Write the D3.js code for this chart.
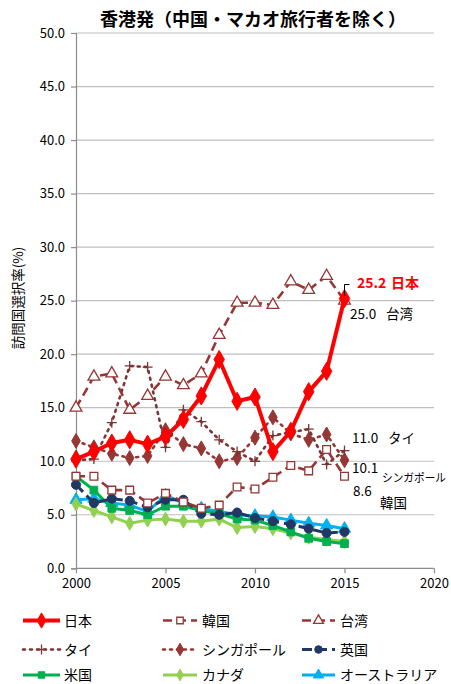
<!DOCTYPE html>
<html><head><meta charset="utf-8">
<script src="https://cdn.jsdelivr.net/npm/d3@7"></script>
<style>body{margin:0;background:#fff}svg{display:block}text{font-family:"Noto Sans CJK JP","Noto Sans",sans-serif}</style>
</head><body>
<script>
const years = [2000,2001,2002,2003,2004,2005,2006,2007,2008,2009,2010,2011,2012,2013,2014,2015];
const japan     = [10.2,10.9,11.7,12.0,11.6,12.3,13.9,16.1,19.5,15.6,16.0,10.9,12.8,16.5,18.4,25.2];
const korea     = [8.6,8.6,7.3,7.3,6.1,7.0,6.2,5.6,5.9,7.6,7.4,8.5,9.6,9.1,11.1,8.6];
const taiwan    = [15.0,17.9,18.2,14.8,16.1,17.9,17.1,18.2,21.8,24.8,24.8,24.6,26.8,26.0,27.3,25.0];
const thai      = [10.1,10.2,13.6,18.9,18.8,11.3,14.8,13.7,12.0,10.9,10.0,12.4,12.7,13.0,9.7,11.0];
const singapore = [11.9,11.3,10.7,10.3,10.5,12.9,11.6,11.2,10.0,10.3,12.2,14.1,12.6,12.0,12.5,10.1];
const uk        = [7.8,6.1,6.5,6.3,5.7,6.4,6.4,5.1,5.0,5.2,4.7,4.4,4.1,3.7,3.3,3.4];
const usa       = [8.6,7.3,5.6,5.4,5.0,5.8,5.8,5.4,5.1,4.6,4.5,4.0,3.4,2.8,2.5,2.3];
const canada    = [6.0,5.4,4.8,4.2,4.5,4.6,4.4,4.4,4.6,3.8,3.9,3.7,3.3,2.9,2.7,2.5];
const australia = [6.4,6.5,6.1,5.9,5.3,6.8,6.1,5.6,5.3,5.0,4.9,4.8,4.5,4.2,4.0,3.7];
const seriesNames = ["日本","韓国","台湾","タイ","シンガポール","英国","米国","カナダ","オーストラリア"];
const yTicks = [0,5,10,15,20,25,30,35,40,45,50];
const xTicks = [2000,2005,2010,2015,2020];
const title = "香港発（中国・マカオ旅行者を除く）";
const yLabel = "訪問国選択率(%)";

const W=451,H=684;
const svg=d3.select("body").append("svg").attr("width",W).attr("height",H);
const x=d3.scaleLinear().domain([2000,2020]).range([76,434]);
const y=d3.scaleLinear().domain([0,50]).range([568.3,33]);

svg.append("g").selectAll("line").data(yTicks.filter(d=>d>0)).join("line")
 .attr("x1",76).attr("x2",434).attr("y1",d=>y(d)).attr("y2",d=>y(d))
 .attr("stroke","#BFBFBF").attr("stroke-width",1.2);

const ya=svg.append("g").attr("transform","translate(76,0)")
 .call(d3.axisLeft(y).tickValues(yTicks).tickFormat(d3.format(".1f")).tickSize(5).tickPadding(6));
const xa=svg.append("g").attr("transform","translate(0,568.3)")
 .call(d3.axisBottom(x).tickValues(xTicks).tickFormat(d3.format("d")).tickSize(5).tickPadding(5));
[ya,xa].forEach(a=>{a.selectAll("path,line").attr("stroke","#8C8C8C").attr("stroke-width",1.2);
 a.selectAll("text").attr("font-size",13).attr("fill","#000").attr("font-family","Lato,'Noto Sans',sans-serif");});
xa.select(".domain").attr("d","M76,0H434");

svg.append("text").attr("x",253).attr("y",26).attr("text-anchor","middle").attr("font-size",18).attr("font-weight","bold").text(title);
svg.append("text").attr("transform","translate(23,298) rotate(-90)").attr("text-anchor","middle").attr("font-size",13.5).text(yLabel);

const brown="#953735", dbrown="#7B3533";
const S=[
 {d:japan,c:"#FF0000",w:4,dash:null,m:"diamond",ms:95,fill:"#FF0000"},
 {d:korea,c:brown,w:2.6,dash:"9,5",m:"square",ms:60,fill:"#fff"},
 {d:taiwan,c:brown,w:2.6,dash:"9,5",m:"triangle",ms:60,fill:"#fff"},
 {d:thai,c:dbrown,w:2.6,dash:"2,5",m:"plus",ms:0,fill:"none"},
 {d:singapore,c:brown,w:2.6,dash:"2,5",m:"diamond",ms:65,fill:brown},
 {d:uk,c:"#1F3864",w:3,dash:"10,5",m:"circle",ms:65,fill:"#1F3864"},
 {d:usa,c:"#00B050",w:3,dash:null,m:"square",ms:60,fill:"#00B050"},
 {d:canada,c:"#92D050",w:3,dash:null,m:"diamond",ms:55,fill:"#92D050"},
 {d:australia,c:"#00B0F0",w:3,dash:null,m:"triangle",ms:65,fill:"#00B0F0"}
];
S.forEach((s,i)=>s.name=seriesNames[i]);
const symMap={diamond:d3.symbolDiamond,square:d3.symbolSquare,triangle:d3.symbolTriangle,circle:d3.symbolCircle};
function marker(g,s,cx,cy){
 if(s.m==="plus"){
  g.append("path").attr("d",`M${cx-5},${cy}H${cx+5}M${cx},${cy-5}V${cy+5}`).attr("stroke",s.c).attr("stroke-width",1.3).attr("fill","none");
 } else {
  g.append("path").attr("d",d3.symbol().type(symMap[s.m]).size(s.ms)()).attr("transform",`translate(${cx},${cy})`)
   .attr("fill",s.fill).attr("stroke",s.c).attr("stroke-width",s.fill==="#fff"?1.3:1);
 }
}
const line=d3.line().x((d,i)=>x(years[i])).y(d=>y(d));
const order=[8,7,6,5,4,3,1,2,0];
order.forEach(i=>{
 const s=S[i]; const g=svg.append("g");
 g.append("path").attr("d",line(s.d)).attr("fill","none").attr("stroke",s.c).attr("stroke-width",s.w)
  .attr("stroke-dasharray",s.dash).attr("stroke-linecap",s.dash&&s.dash.startsWith("2")?"round":"butt").attr("stroke-linejoin","round");
 s.d.forEach((v,j)=>marker(g,s,x(years[j]),y(v)));
});

const f1=d3.format(".1f");
const jx=x(2015), jy=y(japan[15]);
svg.append("path").attr("d",`M${jx},${jy-3}V${jy-14}H${jx+5}`).attr("stroke","#000").attr("fill","none").attr("stroke-width",1);
const lab=(t,xx,yy,fs,col,bold)=>svg.append("text").attr("x",xx).attr("y",yy).attr("font-size",fs||13.5)
 .attr("fill",col||"#000").attr("font-weight",bold?"bold":"normal").text(t);
lab(f1(japan[15]),357,288,14,"#FF0000",true);
lab("日本",391,288,14,"#FF0000",true);
lab(f1(taiwan[15]),350,319);
lab("台湾",386,319);
lab(f1(thai[15]),352,443);
lab("タイ",388,443);
lab(f1(singapore[15]),352,473);
lab("シンガポール",382,482,11.5).attr("textLength",64).attr("lengthAdjust","spacingAndGlyphs");
lab(f1(korea[15]),353,496);
lab("韓国",380,508);

const cols=[[23,60,64],[163,197,202],[302,335,340]];
const rows=[620.5,649.5,675];
S.forEach((s,i)=>{
 const c=cols[i%3], ry=rows[Math.floor(i/3)];
 const g=svg.append("g");
 g.append("path").attr("d",`M${c[0]},${ry}H${c[1]}`).attr("stroke",s.c).attr("stroke-width",s.w)
  .attr("stroke-dasharray",s.dash).attr("stroke-linecap",s.dash&&s.dash.startsWith("2")?"round":"butt");
 marker(g,{...s,ms:s.ms*0.7},(c[0]+c[1])/2,ry);
 g.append("text").attr("x",c[2]).attr("y",ry+5).attr("font-size",14).text(s.name);
});
</script>
</body></html>
